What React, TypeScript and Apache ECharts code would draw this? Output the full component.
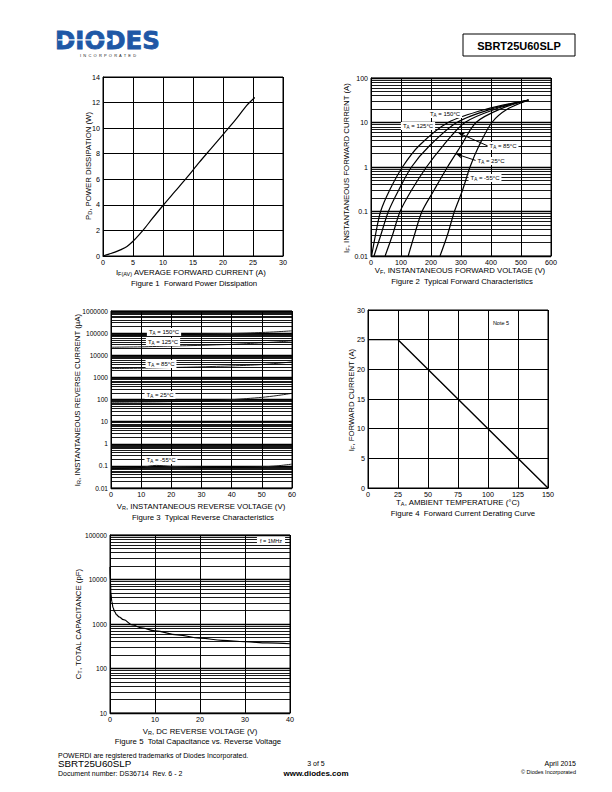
import React, { useEffect, useRef } from "react";
import * as echarts from "echarts";

const FONT = "'Liberation Sans', Arial, Helvetica, sans-serif";

// ---------- Figure 1: Forward Power Dissipation ----------
const fig1Current = [0, 1, 2, 3, 4, 5, 6, 7, 8, 10, 12, 14, 16, 18, 20, 22, 24, 25.3];
const fig1Power = [0, 0.15, 0.3, 0.5, 0.75, 1.15, 1.65, 2.2, 2.8, 3.95, 5.05, 6.15, 7.3, 8.4, 9.5, 10.6, 11.8, 12.4];

// ---------- Figure 2: Typical Forward Characteristics ----------
const fig2Current = [0.01, 0.03, 0.1, 0.3, 1, 3, 10, 20, 32];
const fig2V150 = [2, 15, 32, 62, 105, 160, 257, 385, 525];
const fig2V125 = [10, 33, 58, 92, 135, 195, 286, 400, 525];
const fig2V85 = [47, 72, 97, 135, 185, 240, 313, 415, 525];
const fig2V25 = [124, 145, 170, 210, 255, 300, 350, 430, 525];
const fig2Vm55 = [230, 255, 278, 305, 330, 360, 403, 455, 525];

// ---------- Figure 3: Typical Reverse Characteristics (V, uA) ----------
const fig3Voltage = [0, 5, 10, 15, 20, 25, 30, 35, 40, 45, 50, 55, 60];
const fig3T150 = [78000, 80000, 82000, 84000, 86000, 88000, 90000, 93000, 96000, 100000, 107000, 115000, 127000];
const fig3T125 = [23000, 23500, 24000, 25000, 26000, 27000, 28000, 29500, 31000, 33500, 36500, 40000, 45000];
const fig3T85 = [2500, 2550, 2600, 2700, 2800, 2900, 3000, 3150, 3300, 3500, 3800, 4300, 5000];
const fig3T25 = [75, 76, 77, 78, 80, 82, 85, 90, 98, 110, 125, 150, 190];
const fig3Tm55 = [0.075, 0.078, 0.085, 0.105, 0.095, 0.09, 0.087, 0.085, 0.085, 0.086, 0.09, 0.1, 0.12];

// ---------- Figure 4: Forward Current Derating Curve ----------
const fig4Temp = [0, 25, 150];
const fig4Current = [25, 25, 0];

// ---------- Figure 5: Total Capacitance vs Reverse Voltage ----------
const fig5Voltage = [0, 0.1, 0.2, 0.4, 0.7, 1, 1.5, 2, 3, 5, 7, 10, 15, 20, 25, 30, 35, 40];
const fig5Cap = [19000, 9000, 5000, 3200, 2300, 1900, 1600, 1450, 1250, 950, 820, 700, 570, 480, 430, 400, 375, 360];

const zip = (xs: number[], ys: number[]) => xs.map((x, i) => [x, ys[i]]);

function minorLines(minExp: number, maxExp: number) {
  const out: any[] = [];
  for (let e = minExp; e < maxExp; e++) {
    for (let k = 2; k <= 9; k++) out.push({ yAxis: Number((k * Math.pow(10, e)).toPrecision(3)) });
  }
  return out;
}

const minorMark = (data: any[]) => ({
  silent: true,
  symbol: ["none", "none"],
  label: { show: false },
  lineStyle: { color: "#000", width: 0.9, type: "solid" },
  emphasis: { disabled: true },
  animation: false,
  data,
});

const gridLine = { show: true, lineStyle: { color: "#000", width: 1 } };

function valueAxis(gridIndex: number, min: number, max: number, interval: number, fs = 7.2) {
  return {
    type: "value",
    gridIndex,
    min,
    max,
    interval,
    axisLine: { show: true, lineStyle: { color: "#000", width: 1 } },
    axisTick: { show: false },
    axisLabel: { fontSize: fs, color: "#000", fontFamily: FONT, margin: 3 },
    splitLine: gridLine,
  };
}

function logAxis(gridIndex: number, min: number, max: number, fs = 7) {
  return {
    type: "log",
    logBase: 10,
    gridIndex,
    min,
    max,
    axisLine: { show: true, lineStyle: { color: "#000", width: 1 } },
    axisTick: { show: false },
    axisLabel: { fontSize: fs, color: "#000", fontFamily: FONT, margin: 3, formatter: (v: number) => String(Number(v.toPrecision(3))) },
    splitLine: { show: true, lineStyle: { color: "#000", width: 1.3 } },
  };
}

const RICH = {
  n: { fontSize: 7.8, fontFamily: FONT, fill: "#000", lineHeight: 9 },
  s: { fontSize: 5.5, fontFamily: FONT, fill: "#000", lineHeight: 4, verticalAlign: "bottom" },
};
const LRICH = {
  n: { fontSize: 6, fontFamily: FONT, fill: "#000", lineHeight: 8 },
  s: { fontSize: 4.5, fontFamily: FONT, fill: "#000", lineHeight: 3.5, verticalAlign: "bottom" },
};

function richText(x: number, y: number, text: string, rotate = false) {
  return {
    type: "text",
    x,
    y,
    z: 100,
    rotation: rotate ? Math.PI / 2 : 0,
    style: { text, rich: RICH, align: "center", verticalAlign: "middle" },
  };
}

function plainText(x: number, y: number, text: string, size: number, align = "center", weight = "normal") {
  return {
    type: "text",
    x,
    y,
    z: 100,
    style: { text, fontSize: size, fontFamily: FONT, fontWeight: weight, fill: "#000", align, verticalAlign: "middle" },
  };
}

function tempLabel(x: number, y: number, t: string) {
  return {
    type: "text",
    x,
    y,
    z: 100,
    style: {
      text: `{n|T}{s|A}{n| = ${t}°C}`,
      rich: LRICH,
      align: "center",
      verticalAlign: "middle",
      backgroundColor: "#fff",
      padding: [0, 2],
    },
  };
}

const curve = (x: number, y: number, data: any[], extra: any = {}) => ({
  type: "line",
  xAxisIndex: x,
  yAxisIndex: y,
  data,
  showSymbol: false,
  symbol: "none",
  lineStyle: { color: "#000", width: 1.2 },
  silent: true,
  ...extra,
});

export default function App() {
  const ref = useRef<HTMLDivElement>(null);
  useEffect(() => {
    if (!ref.current) return;
    const chart = echarts.init(ref.current, undefined, { renderer: "svg", width: 612, height: 792 });
    const fig2 = (vs: number[], extra: any = {}) => curve(1, 1, zip(vs, fig2Current), { smooth: 0.3, ...extra });
    const fig3 = (is: number[], extra: any = {}) =>
      curve(2, 2, zip(fig3Voltage, is), { smooth: 0.3, lineStyle: { color: "#222", width: 1 }, ...extra });
    const option: any = {
      animation: false,
      backgroundColor: "#fff",
      grid: [
        { left: 103, top: 77, width: 180, height: 179, show: true, borderColor: "#000", borderWidth: 1 },
        { left: 371, top: 78, width: 180, height: 178, show: true, borderColor: "#000", borderWidth: 1 },
        { left: 111, top: 311, width: 181, height: 177, show: true, borderColor: "#000", borderWidth: 1 },
        { left: 368, top: 310, width: 180, height: 178, show: true, borderColor: "#000", borderWidth: 1 },
        { left: 110, top: 535, width: 180, height: 178, show: true, borderColor: "#000", borderWidth: 1 },
      ],
      xAxis: [
        valueAxis(0, 0, 30, 5),
        valueAxis(1, 0, 600, 100),
        valueAxis(2, 0, 60, 10),
        valueAxis(3, 0, 150, 25),
        valueAxis(4, 0, 40, 10),
      ],
      yAxis: [
        valueAxis(0, 0, 14, 2),
        logAxis(1, 0.01, 100, 7),
        logAxis(2, 0.01, 1000000, 6.6),
        valueAxis(3, 0, 30, 5),
        logAxis(4, 10, 100000, 6.6),
      ],
      series: [
        curve(0, 0, zip(fig1Current, fig1Power), { smooth: 0.3 }),
        fig2(fig2V150, { markLine: minorMark(minorLines(-2, 2)) }),
        fig2(fig2V125),
        fig2(fig2V85, {
          markLine: {
            silent: true,
            symbol: ["none", "arrow"],
            symbolSize: [4, 6],
            label: { show: false },
            lineStyle: { color: "#000", width: 1, type: "solid" },
            data: [
              [{ coord: [390, 2.96] }, { coord: [292, 5.8] }],
              [{ coord: [355, 1.36] }, { coord: [284, 1.96] }],
            ],
          },
        }),
        fig2(fig2V25),
        fig2(fig2Vm55),
        fig3(fig3T150, { markLine: minorMark(minorLines(-2, 6)) }),
        fig3(fig3T125),
        fig3(fig3T85),
        fig3(fig3T25),
        fig3(fig3Tm55),
        curve(3, 3, zip(fig4Temp, fig4Current), { lineStyle: { color: "#000", width: 1.4 } }),
        curve(4, 4, zip(fig5Voltage, fig5Cap), { smooth: 0.4, smoothMonotone: "x", markLine: minorMark(minorLines(1, 5)) }),
      ],
      graphic: [
        // Logo
        {
          type: "text",
          x: 55,
          y: 40,
          z: 100,
          style: {
            text: "DIODES",
            fontSize: 24.5,
            lineHeight: 19,
            fontWeight: "bold",
            fontFamily: "'DejaVu Sans', sans-serif",
            fill: "#1f58a6",
            stroke: "#1f58a6",
            lineWidth: 0.8,
            align: "left",
            verticalAlign: "middle",
          },
        },
        { type: "rect", z: 101, shape: { x: 58, y: 39.2, width: 50, height: 1.3 }, style: { fill: "#fff" } },
        { type: "polygon", z: 101, shape: { points: [[106, 36.5], [112, 39.8], [106, 43]] }, style: { fill: "#fff" } },
        { type: "text", x: 108, y: 55.5, z: 100, style: { text: "I  N  C  O  R  P  O  R  A  T  E  D", fontSize: 4, lineHeight: 4, fontFamily: FONT, fill: "#222", align: "center", verticalAlign: "middle" } },
        // Title box
        { type: "rect", z: 100, shape: { x: 463, y: 34, width: 112, height: 22 }, style: { fill: "#fff", stroke: "#000", lineWidth: 1 } },
        plainText(519, 45.5, "SBRT25U60SLP", 11, "center", "bold"),
        // Figure 1
        richText(88, 166, "{n|P}{s|D}{n|, POWER DISSIPATION (W)}", true),
        richText(191, 272, "{n|I}{s|F(AV)}{n| AVERAGE FORWARD CURRENT (A)}"),
        plainText(194, 283, "Figure 1  Forward Power Dissipation", 7.8),
        // Figure 2
        richText(346, 168, "{n|I}{s|F}{n|, INSTANTANEOUS FORWARD CURRENT (A)}", true),
        richText(460, 270, "{n|V}{s|F}{n|, INSTANTANEOUS FORWARD VOLTAGE (V)}"),
        plainText(462, 281, "Figure 2  Typical Forward Characteristics", 7.8),
        tempLabel(445, 114, "150"),
        tempLabel(418, 126, "125"),
        tempLabel(503, 146, "85"),
        tempLabel(491, 161, "25"),
        tempLabel(485, 178, "-55"),
        // Figure 3
        richText(77, 400, "{n|I}{s|R}{n|, INSTANTANEOUS REVERSE CURRENT (µA)}", true),
        richText(201, 506, "{n|V}{s|R}{n|, INSTANTANEOUS REVERSE VOLTAGE (V)}"),
        plainText(203, 517, "Figure 3  Typical Reverse Characteristics", 7.8),
        tempLabel(164, 332, "150"),
        tempLabel(163, 342, "125"),
        tempLabel(161, 364, "85"),
        tempLabel(160, 395, "25"),
        tempLabel(161, 460, "-55"),
        // Figure 4
        richText(351, 400, "{n|I}{s|F}{n|, FORWARD CURRENT (A)}", true),
        richText(458, 502, "{n|T}{s|A}{n|, AMBIENT TEMPERATURE (°C)}"),
        plainText(463, 513, "Figure 4  Forward Current Derating Curve", 7.8),
        plainText(501, 323, "Note 5", 5.5),
        // Figure 5
        richText(78, 624, "{n|C}{s|T}{n|, TOTAL CAPACITANCE (pF)}", true),
        richText(200, 731, "{n|V}{s|R}{n|, DC REVERSE VOLTAGE (V)}"),
        plainText(198, 741, "Figure 5  Total Capacitance vs. Reverse Voltage", 7.8),
        {
          type: "text",
          x: 271,
          y: 541,
          z: 100,
          style: { text: "f = 1MHz", fontSize: 5.5, fontFamily: FONT, fill: "#000", align: "center", verticalAlign: "middle", backgroundColor: "#fff", padding: [1, 3] },
        },
        // Footer
        plainText(58, 755, "POWERDI are registered trademarks of Diodes Incorporated.", 7, "left"),
        plainText(58, 763.5, "SBRT25U60SLP", 9.8, "left"),
        plainText(58, 773, "Document number: DS36714  Rev. 6 - 2", 7, "left"),
        plainText(316, 763, "3 of 5", 7, "center"),
        plainText(316, 773, "www.diodes.com", 8, "center", "bold"),
        plainText(576, 763, "April 2015", 7, "right"),
        plainText(576, 772, "© Diodes Incorporated", 5.5, "right"),
      ],
    };
    chart.setOption(option);
    return () => chart.dispose();
  }, []);
  return <div ref={ref} style={{ position: "absolute", left: 0, top: 0, width: 612, height: 792, background: "#fff" }} />;
}
